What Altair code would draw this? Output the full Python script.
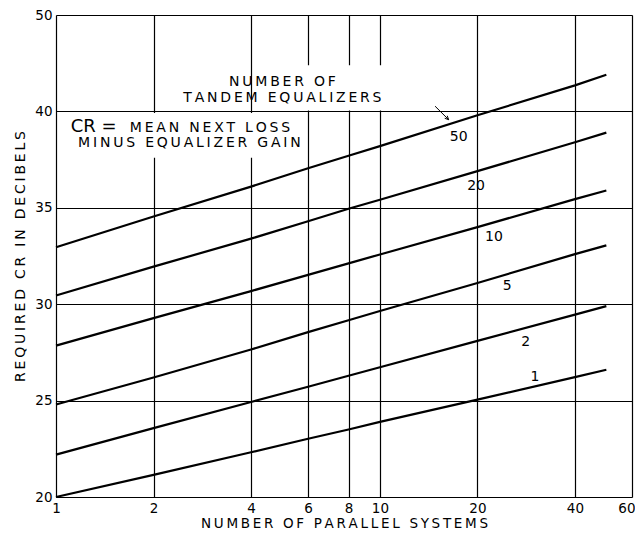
import altair as alt
import pandas as pd

# x positions (number of parallel systems)
xs = [1, 2, 4, 6, 8, 10, 20, 40, 50]
n50 = [32.95, 34.55, 36.1, 37.05, 37.7, 38.2, 39.8, 41.35, 41.9]
n20 = [30.45, 31.95, 33.4, 34.3, 34.95, 35.42, 36.9, 38.4, 38.9]
n10 = [27.85, 29.28, 30.68, 31.52, 32.12, 32.58, 34.0, 35.45, 35.9]
n5 = [24.8, 26.2, 27.65, 28.55, 29.17, 29.65, 31.1, 32.6, 33.05]
n2 = [22.2, 23.57, 24.93, 25.72, 26.29, 26.73, 28.1, 29.46, 29.9]
n1 = [20.0, 21.15, 22.32, 23.02, 23.5, 23.9, 25.05, 26.22, 26.6]
series = {"50": n50, "20": n20, "10": n10, "5": n5, "2": n2, "1": n1}

# curve labels
lab_text = ["50", "20", "10", "5", "2", "1"]
lab_x = [17.5, 19.8, 22.5, 24.7, 28.2, 30.1]
lab_y = [38.65, 36.15, 33.5, 30.95, 28.05, 26.25]

x_ticks = [1, 2, 4, 6, 8, 10, 20, 40, 60]
y_ticks = [20, 25, 30, 35, 40, 45]

rows = []
for k, vals in series.items():
    for x, y in zip(xs, vals):
        rows.append({"n": k, "x": x, "y": y})
lines_df = pd.DataFrame(rows)

FONT = "DejaVu Sans"
TS = "\u2009"


def spaced(s):
    return TS.join(list(s))


xscale = alt.Scale(type="log", domain=[1, 60], nice=False)
yscale = alt.Scale(domain=[20, 45], nice=False, zero=False)

xaxis = alt.Axis(values=x_ticks, title=spaced("NUMBER OF PARALLEL SYSTEMS"), grid=True,
                 gridColor="black", gridWidth=1.2, gridOpacity=1, ticks=False,
                 domain=False, labelPadding=4, titlePadding=2, labelFontSize=13.5,
                 titleFontSize=13.5, titleFontWeight="normal", labelColor="black",
                 titleColor="black", labelFont=FONT, titleFont=FONT, labelFlush=False,
                 labelAlign={"condition": {"test": "datum.value == 60", "value": "right"}, "value": "center"},
                 labelOffset={"condition": {"test": "datum.value == 60", "value": 3}, "value": 0},
                 format="d")
yaxis = alt.Axis(values=y_ticks, title=spaced("REQUIRED CR IN DECIBELS"), grid=True,
                 gridColor="black", gridWidth=1.2, gridOpacity=1, ticks=False,
                 domain=False, labelPadding=4, titlePadding=7, labelFontSize=13.5,
                 titleFontSize=14, titleFontWeight="normal", labelColor="black",
                 titleColor="black", labelFont=FONT, titleFont=FONT,
                 labelExpr="datum.value == 45 ? '50' : datum.label")

# white boxes behind the annotation texts
box_df = pd.DataFrame({
    "x": [1.09, 4.4],
    "x2": [5.75, 18.6],
    "y": [37.6, 40.05],
    "y2": [39.92, 42.4],
})
boxes = alt.Chart(box_df).mark_rect(color="white").encode(
    x=alt.X("x:Q", scale=xscale, axis=xaxis),
    x2="x2:Q",
    y=alt.Y("y:Q", scale=yscale, axis=yaxis),
    y2="y2:Q",
)

lines = alt.Chart(lines_df).mark_line(color="black", strokeWidth=2.2).encode(
    x=alt.X("x:Q", scale=xscale),
    y=alt.Y("y:Q", scale=yscale),
    detail="n:N",
)

lab_df = pd.DataFrame({"t": lab_text, "x": lab_x, "y": lab_y})
labels = alt.Chart(lab_df).mark_text(font=FONT, fontSize=14, color="black").encode(
    x=alt.X("x:Q", scale=xscale),
    y=alt.Y("y:Q", scale=yscale),
    text="t:N",
)

ann_df = pd.DataFrame({
    "t": [spaced("NUMBER OF"), spaced("TANDEM EQUALIZERS"),
          spaced("MEAN NEXT LOSS"), spaced("MINUS EQUALIZER GAIN")],
    "x": [5.0, 5.0, 1.69, 1.17],
    "y": [41.55, 40.72, 39.15, 38.37],
    "a": ["center", "center", "left", "left"],
})
ann_c = alt.Chart(ann_df[ann_df.a == "center"]).mark_text(font=FONT, fontSize=14, color="black").encode(
    x=alt.X("x:Q", scale=xscale), y=alt.Y("y:Q", scale=yscale), text="t:N")
ann_l = alt.Chart(ann_df[ann_df.a == "left"]).mark_text(font=FONT, fontSize=14, color="black", align="left").encode(
    x=alt.X("x:Q", scale=xscale), y=alt.Y("y:Q", scale=yscale), text="t:N")

cr_df = pd.DataFrame({"t": ["CR ="], "x": [1.11], "y": [39.2]})
cr = alt.Chart(cr_df).mark_text(font=FONT, fontSize=18, color="black", align="left").encode(
    x=alt.X("x:Q", scale=xscale), y=alt.Y("y:Q", scale=yscale), text="t:N")

arrow_df = pd.DataFrame({"x": [14.8], "y": [40.27], "x2": [16.3], "y2": [39.57]})
arrow_shaft = alt.Chart(arrow_df).mark_rule(color="black", strokeWidth=1).encode(
    x=alt.X("x:Q", scale=xscale), y=alt.Y("y:Q", scale=yscale), x2="x2:Q", y2="y2:Q")
arrow_head = alt.Chart(arrow_df).mark_point(
    shape="M -0.94 -0.34 L 0 0 L -0.34 -0.94", filled=False, color="black",
    strokeWidth=1, size=70, opacity=1).encode(
    x=alt.X("x2:Q", scale=xscale), y=alt.Y("y2:Q", scale=yscale))

chart = alt.layer(boxes, lines, labels, ann_c, ann_l, cr, arrow_shaft, arrow_head).properties(
    width=576, height=482,
    autosize=alt.AutoSizeParams(type="none"),
    padding={"left": 48, "top": 7, "right": 3, "bottom": 35},
).configure_view(stroke="black", strokeWidth=2).configure(background="white")

chart.save("out.html", embed_options={"renderer": "svg", "actions": False})
